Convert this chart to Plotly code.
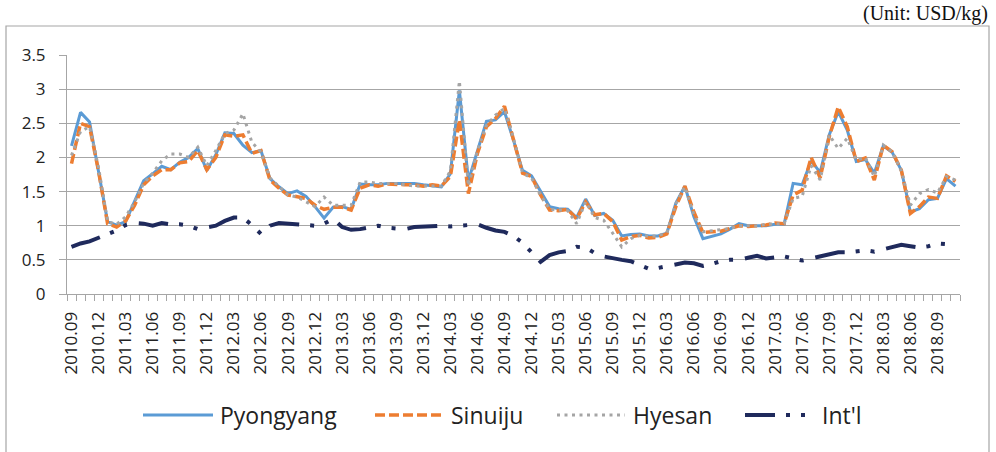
import plotly.graph_objects as go

# ---------------- data ----------------
all_months = [f"{y}.{m:02d}" for y in range(2010, 2019) for m in range(1, 13)]
months = all_months[all_months.index("2010.09"):all_months.index("2018.11") + 1]

pyongyang = [2.17, 2.66, 2.52, 1.80, 1.06, 1.01, 1.06, 1.36, 1.66, 1.76,
             1.87, 1.82, 1.93, 2.00, 2.13, 1.81, 2.04, 2.36, 2.35, 2.18,
             2.07, 2.10, 1.69, 1.57, 1.47, 1.51, 1.43, 1.28, 1.11, 1.27,
             1.28, 1.24, 1.61, 1.60, 1.60, 1.62, 1.62, 1.63, 1.62, 1.60,
             1.58, 1.57, 1.76, 2.98, 1.66, 2.10, 2.53, 2.55, 2.67, 2.25,
             1.81, 1.73, 1.50, 1.28, 1.25, 1.24, 1.12, 1.39, 1.15, 1.18,
             1.08, 0.85, 0.87, 0.88, 0.85, 0.85, 0.89, 1.33, 1.58, 1.13,
             0.81, 0.85, 0.88, 0.95, 1.03, 1.00, 1.00, 1.00, 1.02, 1.02,
             1.62, 1.60, 1.95, 1.78, 2.33, 2.67, 2.40, 1.94, 1.97, 1.77,
             2.17, 2.07, 1.81, 1.20, 1.25, 1.38, 1.40, 1.69, 1.58]

sinuiju = [1.91, 2.50, 2.45, 1.80, 1.03, 0.98, 1.07, 1.30, 1.60, 1.73,
           1.82, 1.82, 1.92, 1.94, 2.10, 1.82, 2.00, 2.33, 2.31, 2.33,
           2.06, 2.10, 1.67, 1.55, 1.45, 1.43, 1.40, 1.30, 1.24, 1.27,
           1.27, 1.23, 1.55, 1.60, 1.58, 1.61, 1.60, 1.60, 1.60, 1.58,
           1.60, 1.58, 1.72, 2.55, 1.47, 2.06, 2.45, 2.57, 2.75, 2.28,
           1.77, 1.72, 1.45, 1.23, 1.22, 1.24, 1.10, 1.35, 1.16, 1.18,
           1.06, 0.79, 0.84, 0.86, 0.82, 0.83, 0.88, 1.28, 1.58, 1.20,
           0.90, 0.91, 0.92, 0.96, 1.00, 0.99, 1.00, 1.01, 1.04, 1.03,
           1.45, 1.52, 2.00, 1.70, 2.30, 2.74, 2.45, 1.94, 1.99, 1.67,
           2.18, 2.08, 1.81, 1.18, 1.28, 1.42, 1.40, 1.73, 1.65]

hyesan = [2.03, 2.38, 2.45, 1.85, 1.06, 1.02, 1.13, 1.35, 1.62, 1.77,
          1.95, 2.05, 2.05, 2.00, 2.15, 1.88, 2.10, 2.35, 2.40, 2.64,
          2.22, 2.08, 1.70, 1.57, 1.45, 1.42, 1.35, 1.28, 1.42, 1.30,
          1.30, 1.30, 1.64, 1.64, 1.62, 1.62, 1.62, 1.60, 1.58, 1.58,
          1.58, 1.58, 1.80, 3.12, 1.58, 2.10, 2.47, 2.62, 2.72, 2.28,
          1.77, 1.70, 1.45, 1.24, 1.23, 1.22, 1.03, 1.35, 1.12, 1.08,
          0.89, 0.69, 0.81, 0.86, 0.85, 0.85, 0.90, 1.32, 1.57, 1.16,
          0.91, 0.93, 0.94, 0.96, 1.00, 1.00, 1.00, 1.02, 1.03, 1.03,
          1.40, 1.43, 1.88, 1.67, 2.33, 2.13, 2.28, 1.96, 2.00, 1.72,
          2.18, 2.08, 1.80, 1.30, 1.47, 1.53, 1.48, 1.72, 1.67]

intl = [0.69, 0.74, 0.77, 0.82, 0.87, 0.93, 1.01, 1.04, 1.03, 1.00,
        1.04, 1.02, 1.02, 1.00, 0.95, 0.97, 1.00, 1.07, 1.12, 1.12,
        1.01, 0.88, 1.00, 1.04, 1.03, 1.01, 1.00, 1.00, 1.03, 1.10,
        0.98, 0.94, 0.95, 0.98, 1.00, 0.97, 0.96, 0.95, 0.98, 0.99,
        1.00, 1.00, 0.99, 1.00, 1.00, 1.02, 0.97, 0.93, 0.91, 0.85,
        0.75, 0.60, 0.47, 0.57, 0.61, 0.63, 0.69, 0.68, 0.60, 0.55,
        0.52, 0.50, 0.48, 0.43, 0.37, 0.38, 0.41, 0.44, 0.46, 0.45,
        0.41, 0.44, 0.48, 0.50, 0.50, 0.53, 0.56, 0.52, 0.54, 0.55,
        0.52, 0.49, 0.52, 0.55, 0.58, 0.61, 0.61, 0.62, 0.64, 0.62,
        0.65, 0.69, 0.72, 0.70, 0.68, 0.70, 0.74, 0.73, 0.70]

series_names = ["Pyongyang", "Sinuiju", "Hyesan", "Int'l"]
y_ticks = [0, 0.5, 1, 1.5, 2, 2.5, 3, 3.5]
y_tick_labels = ["0", "0.5", "1", "1.5", "2", "2.5", "3", "3.5"]
unit_text = "(Unit: USD/kg)"

# ---------------- styles ----------------
W, H = 996, 452
L, R, T, B = 67, 36, 55, 158
PW, PH = W - L - R, H - T - B

colors = ["#5B9BD5", "#ED7D31", "#A5A5A5", "#1F2A5C"]
widths = [3, 3.5, 3, 4]
dashes = ["solid", "10px,4px", "3px,4.5px", "30px,11px,4px,11px,4px,12px"]
grid_c = "#A6A6A6"
txt_c = "#222222"
FONT = "Open Sans"


def px(xp):
    return (xp - L) / PW


def py(yp):
    return (H - B - yp) / PH


idx = list(range(len(months)))
values = [pyongyang, sinuiju, hyesan, intl]

fig = go.Figure()
for name, vals, c, w, d in zip(series_names, values, colors, widths, dashes):
    fig.add_trace(go.Scatter(x=idx, y=vals, mode="lines", name=name,
                             customdata=months,
                             hovertemplate="%{customdata}: %{y}<extra>" + name + "</extra>",
                             line=dict(color=c, width=w, dash=d),
                             showlegend=False))

fig.update_xaxes(range=[-0.5, len(months) - 0.5],
                 tickmode="array", tickvals=idx[::3], ticktext=months[::3],
                 tickangle=-90, ticks="", showline=True, linecolor=grid_c,
                 linewidth=1, showgrid=False, zeroline=False,
                 tickfont=dict(family=FONT, size=17, color=txt_c),
                 ticklabelstandoff=10, automargin=False,
                 minor=dict(ticks="outside", ticklen=6, tickcolor=grid_c,
                            tick0=-0.5, dtick=1, showgrid=False))

fig.update_yaxes(range=[0, 3.5], tickmode="array", tickvals=y_ticks,
                 ticktext=y_tick_labels, showgrid=True, gridcolor=grid_c,
                 gridwidth=1, ticks="outside", ticklen=7, tickcolor=grid_c,
                 showline=True, linecolor=grid_c, linewidth=1, zeroline=False,
                 tickfont=dict(family=FONT, size=17, color=txt_c),
                 ticklabelstandoff=10, automargin=False)

shapes = []
# outer chart border (left, top, right)
shapes.append(dict(type="path", xref="paper", yref="paper",
                   path=f"M {px(6)} {py(470)} L {px(6)} {py(26)} L {px(989)} {py(26)} L {px(989)} {py(470)}",
                   line=dict(color=grid_c, width=1.2)))

annotations = [dict(text=unit_text, xref="paper", yref="paper", x=px(990), y=py(13),
                    xanchor="right", yanchor="middle", showarrow=False,
                    font=dict(family="Liberation Serif", size=20, color="#111111"))]

# custom legend
leg_y = 415
leg_items = [(143, 213, 218), (375, 445, 449), (557, 625, 631), (745, 810, 820)]
for (x0, x1, tx), name, c, w, d in zip(leg_items, series_names, colors, widths, dashes):
    shapes.append(dict(type="line", xref="paper", yref="paper",
                       x0=px(x0), x1=px(x1), y0=py(leg_y), y1=py(leg_y),
                       line=dict(color=c, width=w, dash=d)))
    annotations.append(dict(text=name, xref="paper", yref="paper", x=px(tx), y=py(leg_y),
                            xanchor="left", yanchor="middle", showarrow=False,
                            font=dict(family=FONT, size=23, color=txt_c)))

fig.update_layout(width=W, height=H, margin=dict(l=L, r=R, t=T, b=B),
                  paper_bgcolor="white", plot_bgcolor="white",
                  shapes=shapes, annotations=annotations, showlegend=False)

fig.write_html("out.html", config={"displayModeBar": False},
               post_script="document.body.style.margin='0';document.body.style.overflow='hidden';")
